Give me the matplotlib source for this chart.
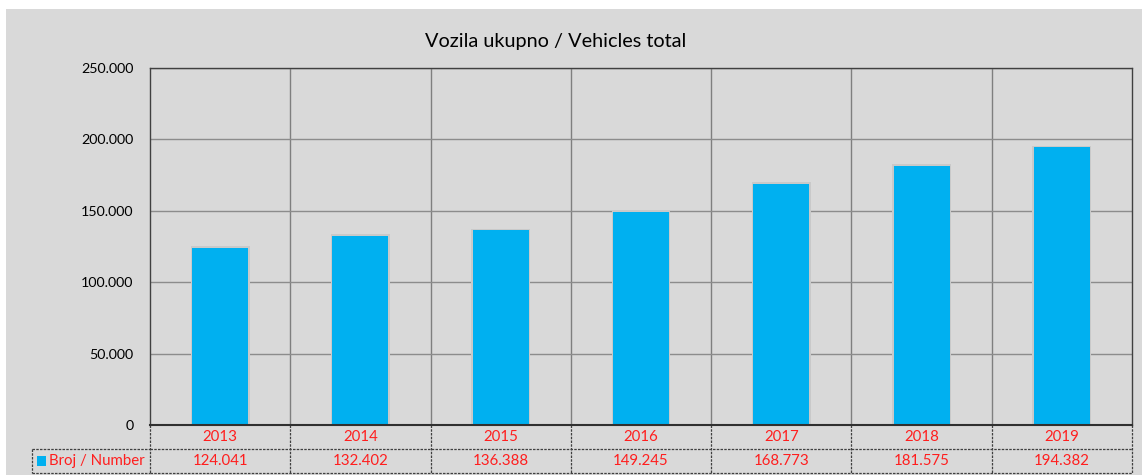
import matplotlib
matplotlib.use("Agg")
import matplotlib.pyplot as plt
from matplotlib.patches import Rectangle
from matplotlib.ticker import FuncFormatter
import matplotlib.transforms as mtransforms

years = ["2013", "2014", "2015", "2016", "2017", "2018", "2019"]
values = [124041, 132402, 136388, 149245, 168773, 181575, 194382]
value_labels = ["124.041", "132.402", "136.388", "149.245", "168.773", "181.575", "194.382"]
series_name = "Broj / Number"
title = "Vozila ukupno / Vehicles total"
yticks = [0, 50000, 100000, 150000, 200000, 250000]

plt.rcParams['font.family'] = ['Lato', 'DejaVu Sans']

W, H = 1142, 475
fig = plt.figure(figsize=(W / 100, H / 100), dpi=100)
fig.patch.set_facecolor('white')
# gray chart area
fig.patches.append(Rectangle((6 / W, 0), (W - 6) / W, (H - 9) / H, transform=fig.transFigure,
                             facecolor='#D9D9D9', edgecolor='none', zorder=-10))

left, right, top, bottom = 150, 1132, 68, 425
ax = fig.add_axes([left / W, 1 - bottom / H, (right - left) / W, (bottom - top) / H])
ax.set_facecolor('#D9D9D9')
ax.patch.set_alpha(0)

n = len(years)
x = list(range(n))
# soft shadow behind bars
ax.bar(x, [v + 1200 for v in values], width=0.42, color='#C9C9C9', edgecolor='none', zorder=2)
ax.bar(x, values, width=0.4, color='#00B0F0', edgecolor='none', zorder=3)
ax.set_xlim(-0.5, n - 0.5)
ax.set_ylim(0, 250000)
ax.set_yticks(yticks)
ax.yaxis.set_major_formatter(FuncFormatter(lambda v, p: "0" if v == 0 else f"{int(v):,}".replace(",", ".")))
ax.tick_params(axis='y', length=0, pad=12, labelsize=10.3, labelcolor='#000000')
ax.set_xticks([])
ax.grid(axis='y', color='#8C8C8C', linewidth=1.0, zorder=1)
for b in [i + 0.5 for i in range(n - 1)]:
    ax.axvline(b, color='#7F7F7F', linewidth=1.0, zorder=1)
for s in ['top', 'left', 'right']:
    ax.spines[s].set_linestyle((0, (2, 1)))
    ax.spines[s].set_color('#404040')
    ax.spines[s].set_linewidth(1.0)
ax.spines['bottom'].set_color('#303030')
ax.spines['bottom'].set_linewidth(1.5)
ax.spines['bottom'].set_zorder(5)

# table below
ph = bottom - top
r1 = -(449 - bottom) / ph
r2 = -(473 - bottom) / ph
trans = mtransforms.blended_transform_factory(ax.transData, ax.transAxes)
line_kw = dict(color='#404040', linewidth=0.9, linestyle=(0, (2, 1)), clip_on=False)
for xb in [i - 0.5 for i in range(n + 1)]:
    ax.plot([xb, xb], [0, r2], transform=trans, **line_kw)
ax.plot([-0.5, n - 0.5], [r1, r1], transform=trans, **line_kw)
ax.plot([-0.5, n - 0.5], [r2, r2], transform=trans, **line_kw)
hx = (32 - left) / (right - left)
ax.plot([hx, 0], [r1, r1], transform=ax.transAxes, **line_kw)
ax.plot([hx, 0], [r2, r2], transform=ax.transAxes, **line_kw)
ax.plot([hx, hx], [r1, r2], transform=ax.transAxes, **line_kw)

red = '#FF1E1E'
for i in x:
    ax.text(i, r1 / 2, years[i], transform=trans, ha='center', va='center', color=red, fontsize=10.8)
    ax.text(i, (r1 + r2) / 2, value_labels[i], transform=trans, ha='center', va='center', color=red, fontsize=10.8)

# legend key in header cell
ax.add_patch(Rectangle(((37 - left) / (right - left), (r1 + r2) / 2 - 5 / ph), 9 / (right - left), 10 / ph,
                       transform=ax.transAxes, facecolor='#00B0F0', edgecolor='none', clip_on=False))
ax.text((49 - left) / (right - left), (r1 + r2) / 2, series_name, transform=ax.transAxes,
        ha='left', va='center', color=red, fontsize=10.8)

fig.text(556 / W, 1 - 41 / H, title, ha='center', va='center', fontsize=14.3, color='#000000')

fig.savefig("out.png", dpi=100, facecolor=fig.get_facecolor())
